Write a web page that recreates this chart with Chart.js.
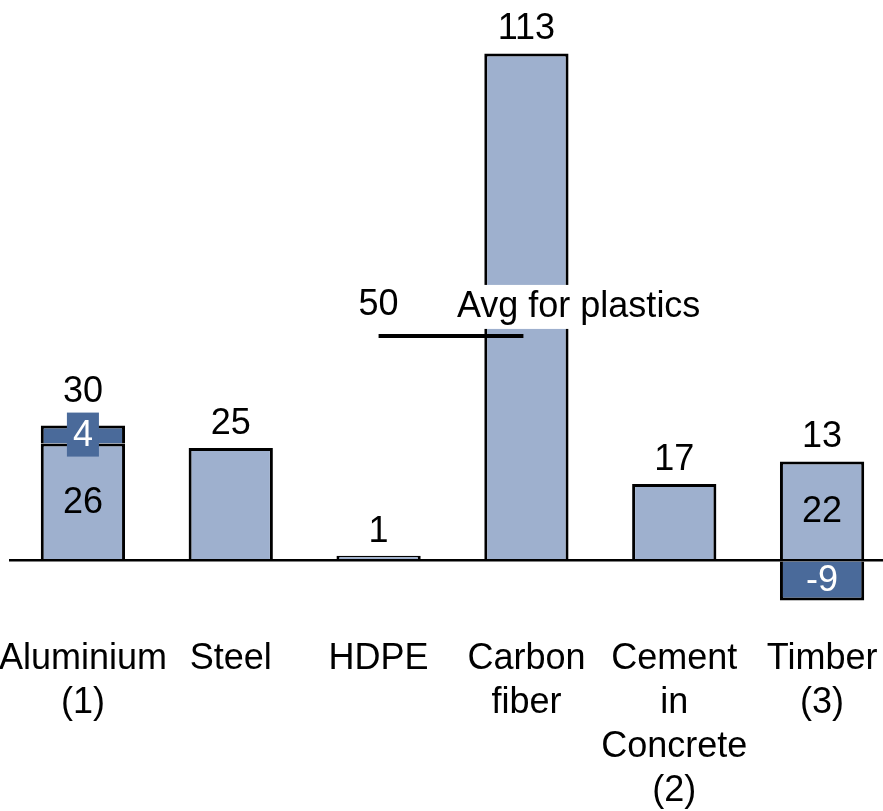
<!DOCTYPE html>
<html>
<head>
<meta charset="utf-8">
<script src="https://cdn.jsdelivr.net/npm/chart.js@4/dist/chart.umd.min.js"></script>
<style>
  html, body { margin: 0; padding: 0; background: #fff; overflow: hidden; }
  #wrap { width: 896px; height: 811px; }
</style>
</head>
<body>
<div id="wrap"><canvas id="chart" width="896" height="811"></canvas></div>
<script>
// Material categories (multi-line axis labels)
const categories = [
  ['Aluminium', '(1)'],
  ['Steel'],
  ['HDPE'],
  ['Carbon', 'fiber'],
  ['Cement', 'in', 'Concrete', '(2)'],
  ['Timber', '(3)']
];
// Main contribution per material
const baseValues = [26, 25, 1, 113, 17, 22];
// Additional / offset contribution (null where there is none)
const adjustValues = [4, null, null, null, null, -9];
// Reference line: average for plastics
const plasticsAvg = 50;
const plasticsAvgLabel = 'Avg for plastics';

const LIGHT = '#9eb0ce';
const DARK = '#4a6a9a';
const FONT = '"Liberation Sans", Arial, Helvetica, sans-serif';

const labelPlugin = {
  id: 'valueLabels',
  afterDatasetsDraw(chart) {
    const { ctx, scales: { x, y } } = chart;
    ctx.save();
    ctx.font = '36px ' + FONT;
    ctx.textAlign = 'center';
    ctx.textBaseline = 'middle';

    // average-for-plastics marker
    const ly = y.getPixelForValue(plasticsAvg);
    const lx0 = x.getPixelForValue(2);
    const lx1 = x.getPixelForValue(3) - 3;
    const tx = x.getPixelForValue(2.53);
    const tw = ctx.measureText(plasticsAvgLabel).width;
    ctx.fillStyle = '#fff';
    ctx.fillRect(tx - 4, ly - 51, tw + 8, 44);
    ctx.fillStyle = '#000';
    ctx.textAlign = 'left';
    ctx.fillText(plasticsAvgLabel, tx, ly - 29);
    ctx.textAlign = 'center';
    ctx.fillText(String(plasticsAvg), lx0, ly - 31);
    ctx.strokeStyle = '#000';
    ctx.lineWidth = 4;
    ctx.beginPath();
    ctx.moveTo(lx0, ly);
    ctx.lineTo(lx1, ly);
    ctx.stroke();

    categories.forEach((c, i) => {
      const b = baseValues[i];
      const a = adjustValues[i];
      const px = x.getPixelForValue(i);
      const total = b + (a ?? 0);
      const posTop = b + Math.max(a ?? 0, 0);
      let topPx = y.getPixelForValue(posTop);

      if (a !== null) {
        ctx.fillStyle = '#000';
        ctx.fillText(String(b), px, (y.getPixelForValue(0) + y.getPixelForValue(b)) / 2 + 1);
        const y0 = y.getPixelForValue(a > 0 ? b : 0);
        const y1 = y.getPixelForValue(a > 0 ? b + a : a);
        const cy = (y0 + y1) / 2;
        const t = String(a);
        const w = ctx.measureText(t).width;
        // thin segments get a filled tag behind their label
        if (Math.abs(y1 - y0) < 30) {
          ctx.fillStyle = DARK;
          ctx.fillRect(px - w / 2 - 6, cy - 22, w + 12, 44);
          topPx = Math.min(topPx, cy - 22 + 3);
        }
        ctx.fillStyle = '#fff';
        ctx.fillText(t, px, cy + 1);
      }
      ctx.fillStyle = '#000';
      ctx.fillText(String(total), px, topPx - 24);
    });
    ctx.restore();
  }
};

new Chart(document.getElementById('chart'), {
  type: 'bar',
  data: {
    labels: categories,
    datasets: [
      {
        data: baseValues,
        backgroundColor: LIGHT,
        borderColor: '#000',
        borderWidth: 3
      },
      {
        data: adjustValues,
        backgroundColor: DARK,
        borderColor: '#000',
        borderWidth: 3
      }
    ]
  },
  options: {
    responsive: false,
    devicePixelRatio: 1,
    animation: false,
    events: [],
    layout: { padding: { top: 22, left: 9, right: 0, bottom: 0 } },
    datasets: { bar: { categoryPercentage: 1, barPercentage: 0.57 } },
    plugins: { legend: { display: false }, tooltip: { enabled: false } },
    scales: {
      x: {
        stacked: true,
        grid: { display: false },
        border: { display: false },
        ticks: {
          color: '#000',
          font: { family: FONT, size: 36, lineHeight: 1.222 },
          padding: 24,
          maxRotation: 0,
          autoSkip: false
        },
        afterFit(scale) {
          // keep the outer labels from pushing the plot inwards
          scale.paddingLeft = 0;
          scale.paddingRight = 0;
          scale.height = 206;
        }
      },
      y: {
        stacked: true,
        display: true,
        min: -10,
        max: 120,
        border: { display: false },
        ticks: { display: false },
        afterFit(scale) { scale.width = 0; },
        grid: {
          drawTicks: false,
          color: ctx => (ctx.tick && ctx.tick.value === 0 ? '#000' : 'rgba(0,0,0,0)'),
          lineWidth: ctx => (ctx.tick && ctx.tick.value === 0 ? 2.5 : 0)
        }
      }
    }
  },
  plugins: [labelPlugin]
});
</script>
</body>
</html>
